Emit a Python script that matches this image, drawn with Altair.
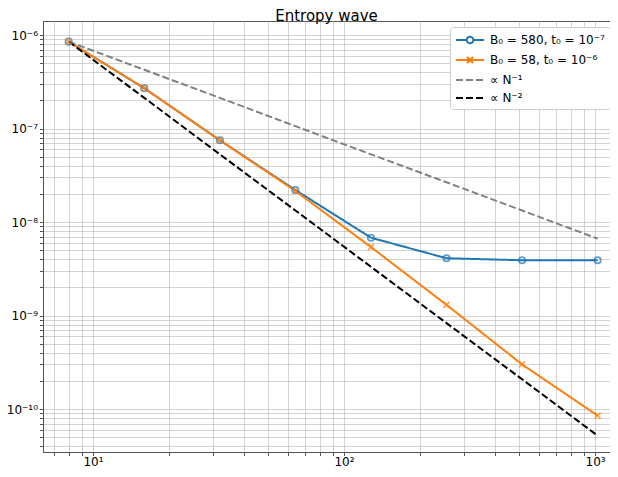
import altair as alt
import pandas as pd

# ---- data ----
N = [8, 16, 32, 64, 128, 256, 512, 1024]
err_b580 = [8.5e-7, 2.7e-7, 7.5e-8, 2.2e-8, 6.8e-9, 4.1e-9, 3.9e-9, 3.9e-9]
err_b58 = [8.5e-7, 2.7e-7, 7.5e-8, 2.15e-8, 5.4e-9, 1.3e-9, 3.0e-10, 8.5e-11]
ref_n1 = [8.5e-7, 4.25e-7, 2.13e-7, 1.06e-7, 5.3e-8, 2.66e-8, 1.33e-8, 6.64e-9]
ref_n2 = [8.5e-7, 2.13e-7, 5.3e-8, 1.33e-8, 3.32e-9, 8.3e-10, 2.08e-10, 5.19e-11]

S1 = "B₀ = 580, t₀ = 10⁻⁷"
S2 = "B₀ = 58, t₀ = 10⁻⁶"
S3 = "∝ N⁻¹"
S4 = "∝ N⁻²"
series_names = [S1, S2, S3, S4]
series_colors = ["#1f77b4", "#ff7f0e", "#808080", "#000000"]

rows = []
for name, vals in zip(series_names, [err_b580, err_b58, ref_n1, ref_n2]):
    for n, v in zip(N, vals):
        rows.append({"N": n, "err": v, "series": name})
df = pd.DataFrame(rows)

x_ticks = [k * 10 ** e for e in range(0, 4) for k in range(1, 10)]
x_ticks = [v for v in x_ticks if 6.3 <= v <= 1147]
y_ticks = [float(f"{k}e{e}") for e in range(-11, -5) for k in range(1, 10)]
y_ticks = [v for v in y_ticks if 3.4e-11 <= v <= 1.4e-6]

x_label_expr = ("datum.value == 10 ? '10¹' : datum.value == 100 ? '10²' : "
                "datum.value == 1000 ? '10³' : ''")
sup = {-6: "⁻⁶", -7: "⁻⁷", -8: "⁻⁸", -9: "⁻⁹", -10: "⁻¹⁰"}
y_label_expr = ""
for e, s in sup.items():
    y_label_expr += f"abs(datum.value - 1e{e}) < 1e{e - 3} ? '10{s}' : "
y_label_expr += "''"

x_scale = alt.Scale(type="log", domain=[6.32, 1147], nice=False)
y_scale = alt.Scale(type="log", domain=[3.47e-11, 1.413e-6], nice=False)

x_axis = alt.Axis(values=x_ticks, labelExpr=x_label_expr, title=None,
                  grid=True, tickSize=3.5, labelFontSize=12, labelPadding=1,
                  labelFlush=False, labelOverlap=False)
y_axis = alt.Axis(values=y_ticks, labelExpr=y_label_expr, title=None,
                  grid=True, tickSize=3.5, labelFontSize=12, labelPadding=2,
                  labelOverlap=False)

line_path = "M-1,0L3,0"
circ_path = ("M-1,0L0.53,0M1.47,0L3,0"
             "M0.53,0A0.47,0.47 0 1,1 1.47,0A0.47,0.47 0 1,1 0.53,0")
x_path = "M-1,0L3,0M0.55,-0.45L1.45,0.45M0.55,0.45L1.45,-0.45"

legend = alt.Legend(
    title=None, orient="none", legendX=407, legendY=6,
    fillColor="white", strokeColor="#cccccc", cornerRadius=3, padding=5,
    labelFontSize=12, labelLimit=300, symbolSize=196, symbolStrokeWidth=2,
    rowPadding=4, labelOffset=19, symbolFillColor="transparent",
    symbolType={"expr": f"datum.label == '{S1}' ? '{circ_path}' : datum.label == '{S2}' ? '{x_path}' : '{line_path}'"},
    symbolDash={"expr": f"(datum.label == '{S3}' || datum.label == '{S4}') ? [6, 3] : [1, 0]"},
)

color = alt.Color("series:N", scale=alt.Scale(domain=series_names, range=series_colors),
                  legend=legend)

base = alt.Chart(df).encode(
    x=alt.X("N:Q", scale=x_scale, axis=x_axis),
    y=alt.Y("err:Q", scale=y_scale, axis=y_axis),
)

lines = base.mark_line(strokeWidth=2, clip=True).encode(
    color=color,
    strokeDash=alt.StrokeDash("series:N", scale=alt.Scale(
        domain=series_names, range=[[1, 0], [1, 0], [7, 3], [7, 3]]), legend=None),
    order="N:Q",
)

pts1 = base.mark_point(shape="circle", filled=False, size=40, strokeWidth=1.8,
                       color="#1f77b4").transform_filter(alt.datum.series == S1)
pts2 = base.mark_point(shape="M-1,-1L1,1M-1,1L1,-1", filled=False, size=35,
                       strokeWidth=1.8, color="#ff7f0e").transform_filter(alt.datum.series == S2)

chart = alt.layer(lines, pts1, pts2).properties(
    width=567, height=431,
    title=alt.Title("Entropy wave", fontSize=15, fontWeight="normal",
                    font="DejaVu Sans", offset=0, dy=3, anchor="middle"),
    autosize=alt.AutoSizeParams(type="none"),
    padding={"left": 35, "top": 13, "right": 0, "bottom": 17},
).configure(font="DejaVu Sans").configure_axis(
    gridColor="#b0b0b0", gridOpacity=0.7, gridWidth=0.8,
    domainColor="#555555", domainWidth=1, tickColor="#555555",
    labelColor="black", labelFont="DejaVu Sans",
).configure_view(stroke="#555555", strokeWidth=1).configure_legend(
    labelFont="DejaVu Sans", labelColor="black"
)

chart.save("out.html", embed_options={"renderer": "svg", "actions": False})
